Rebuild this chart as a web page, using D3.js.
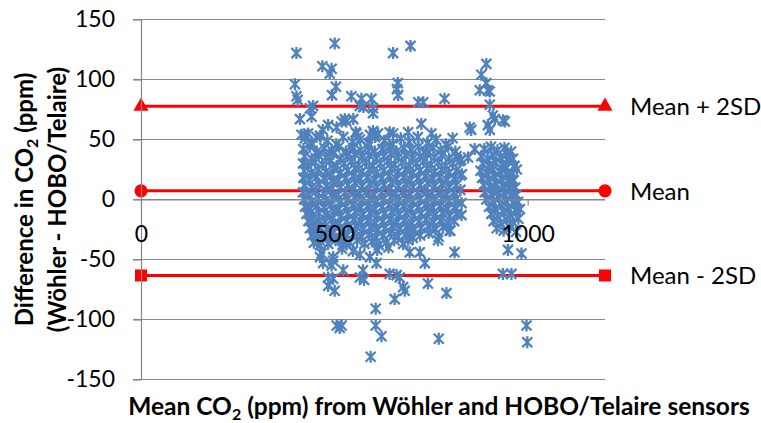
<!DOCTYPE html>
<html>
<head>
<meta charset="utf-8">
<script src="https://cdn.jsdelivr.net/npm/d3@7"></script>
<style>
  body { margin: 0; background: #fff; }
  svg { display: block; font-family: Lato, "Open Sans", sans-serif; }
</style>
</head>
<body>
<div id="chart"></div>
<script>
// axis ticks
const xTicks = [0, 500, 1000];
const yTicks = [-150, -100, -50, 0, 50, 100, 150];

// limits of agreement
const limitLabels = ["Mean + 2SD", "Mean", "Mean - 2SD"];
const limitValues = [77.7, 7.2, -63.3];
const limitShapes = ["triangle", "circle", "square"];

// [mean CO2, difference]
const points = [
  // outliers above the cloud
  [402,122],[501,130],[469,111],[493,109],[488,105],[504,94],[398,96],[402,86],[405,83],[494,87],
  [544,86],[570,84],[596,84],[600,76],[600,72],[445,78],[437,76],[566,78],[575,77],[411,67],
  [441,69],[484,62],[506,60],[519,65],[527,67],[549,67],[561,52],[424,54],[454,52],[605,52],
  [652,122],[664,97],[662,92],[665,87],[697,128],[717,81],[730,81],[785,84],[893,113],[880,104],
  [876,91],[893,97],[897,91],[902,90],[902,79],[910,70],[915,67],[941,65],[936,66],[725,63],
  [850,60],[854,58],[897,62],[902,58],[846,35],[863,42],[652,55],[691,56],[751,55],[600,57],
  [555,56],[470,58],[531,65],[557,55],[592,54],[613,55],[643,56],[432,55],[415,54],
  // main cloud
  [424,51],[441,47],[463,53],[482,49],[505,46],[523,52],[547,48],[566,50],[588,47],[607,53],
  [629,49],[651,46],[672,51],[694,48],[716,52],[741,47],[763,50],[788,46],[806,51],
  [420,42],[437,44],[455,40],[474,43],[493,41],[512,44],[530,40],[549,43],[568,41],[587,44],
  [605,40],[624,42],[643,45],[661,40],[680,43],[699,41],[718,44],[737,40],[756,43],[775,41],
  [794,44],[813,40],
  [423,36],[441,34],[459,37],[478,35],[497,38],[516,34],[534,36],[553,38],[572,35],[590,37],
  [609,34],[628,36],[646,38],[665,35],[684,37],[703,34],[721,36],[740,38],[759,35],[778,37],
  [797,34],[816,36],[828,33],
  [419,30],[432,28],[450,31],[469,29],[488,32],[506,28],[525,30],[544,32],[563,29],[581,31],
  [600,28],[619,30],[638,32],[656,29],[675,31],[694,28],[712,30],[731,32],[750,29],[769,31],
  [788,28],[806,30],[824,32],
  [422,24],[440,22],[459,25],[478,23],[497,26],[515,22],[534,24],[553,26],[571,23],[590,25],
  [609,22],[627,24],[646,26],[665,23],[684,25],[702,22],[721,24],[740,26],[759,23],[777,25],
  [796,22],[815,24],[830,21],
  [420,18],[436,16],[455,19],[474,17],[492,20],[511,16],[530,18],[549,20],[567,17],[586,19],
  [605,16],[623,18],[642,20],[661,17],[680,19],[698,16],[717,18],[736,20],[755,17],[773,19],
  [792,16],[811,18],[826,20],
  [423,12],[441,10],[460,13],[479,11],[497,14],[516,10],[535,12],[553,14],[572,11],[591,13],
  [610,10],[628,12],[647,14],[666,11],[684,13],[703,10],[722,12],[741,14],[759,11],[778,13],
  [797,10],[815,12],
  [419,6],[434,4],[453,7],[472,5],[491,8],[509,4],[528,6],[547,8],[566,5],[584,7],
  [603,4],[622,6],[641,8],[659,5],[678,7],[697,4],[716,6],[734,8],[753,5],[772,7],
  [791,4],[809,6],[826,8],
  [422,0],[440,-2],[459,1],[477,-1],[496,2],[515,-2],[534,0],[552,2],[571,-1],[590,1],
  [608,-2],[627,0],[646,2],[665,-1],[683,1],[702,-2],[721,0],[740,2],[758,-1],[777,1],
  [796,-2],[814,0],[829,-3],
  [424,-6],[437,-8],[456,-5],[474,-7],[493,-4],[512,-8],[531,-6],[549,-4],[568,-7],[587,-5],
  [605,-8],[624,-6],[643,-4],[662,-7],[680,-5],[699,-8],[718,-6],[737,-4],[755,-7],[774,-5],
  [793,-8],[812,-6],
  [428,-12],[442,-14],[460,-11],[479,-13],[498,-10],[517,-14],[535,-12],[554,-10],[573,-13],[592,-11],
  [610,-14],[629,-12],[648,-10],[667,-13],[685,-11],[704,-14],[723,-12],[742,-10],[760,-13],[779,-11],
  [798,-14],[816,-12],
  [433,-18],[446,-20],[460,-17],[476,-19],[495,-16],[513,-20],[532,-18],[551,-16],[570,-19],[588,-17],
  [607,-20],[626,-18],[645,-16],[663,-19],[682,-17],[701,-20],[720,-18],[738,-16],[757,-19],[776,-17],
  [795,-20],[810,-18],
  [437,-24],[449,-26],[463,-23],[480,-25],[499,-22],[518,-26],[536,-24],[555,-22],[574,-25],[593,-23],
  [611,-26],[630,-24],[649,-22],[668,-25],[686,-23],[705,-26],[724,-24],[743,-22],[762,-25],[781,-23],
  [800,-26],
  [442,-30],[455,-32],[468,-29],[480,-31],[496,-28],[515,-32],[533,-30],[552,-28],[571,-31],[590,-29],
  [608,-32],[627,-30],[646,-28],[665,-31],[684,-29],[703,-32],[722,-30],[744,-28],[770,-31],
  [447,-36],[465,-35],[484,-37],[503,-34],[521,-38],[540,-36],[559,-34],[578,-37],[597,-35],
  [615,-38],[634,-36],[655,-34],[678,-37],
  [520,-41],[548,-43],[611,-42],[640,-40],
  // cluster near 900-970
  [888,42],[905,44],[922,41],[940,43],[957,40],
  [880,36],[896,34],[912,37],[929,35],[946,38],[962,34],
  [884,30],[900,28],[917,31],[934,29],[950,32],[966,28],
  [878,24],[894,22],[911,25],[928,23],[944,26],[960,22],[972,25],
  [882,18],[898,16],[915,19],[932,17],[948,20],[964,16],
  [886,12],[903,10],[919,13],[936,11],[952,14],[968,10],
  [889,6],[906,4],[922,7],[939,5],[955,8],[971,4],
  [893,0],[910,-2],[926,1],[943,-1],[959,2],[975,-2],
  [900,-6],[916,-8],[933,-5],[949,-7],[966,-4],[980,-8],
  [906,-12],[922,-14],[939,-11],[955,-13],[971,-10],
  [912,-18],[929,-20],[946,-17],[962,-19],[976,-16],
  [920,-24],[938,-26],[955,-23],[970,-27],
  // outliers below the cloud
  [463,-38],[467,-45],[463,-48],[497,-48],[497,-51],[471,-53],[493,-55],[523,-59],[484,-65],[497,-66],
  [484,-72],[501,-76],[566,-65],[577,-67],[574,-59],[609,-53],[592,-48],[643,-62],[656,-83],[607,-91],
  [607,-105],[622,-114],[594,-131],[506,-105],[519,-105],[514,-107],[531,-37],[566,-46],
  [661,-63],[669,-65],[678,-73],[682,-76],[734,-53],[742,-70],[790,-78],[811,-44],[721,-44],[768,-34],
  [798,-26],[829,-13],[949,-42],[984,-45],[936,-62],[958,-62],[770,-116],[997,-105],[999,-119],
  [695,-28],[691,-34],[695,-44]
];

const width = 761, height = 423;
const grey = "#878787";
const blue = "#4F81BD";
const red = "#FF0000";

const x = d3.scaleLinear().domain([0, 1200]).range([141, 605]);
const y = d3.scaleLinear().domain([-150, 150]).range([379.5, 19.5]);

const svg = d3.select("#chart")
  .append("svg")
  .attr("width", width)
  .attr("height", height);

// horizontal gridlines
svg.append("g")
  .selectAll("line")
  .data(yTicks)
  .join("line")
  .attr("x1", x(0) - 8)
  .attr("x2", x(1200))
  .attr("y1", d => y(d))
  .attr("y2", d => y(d))
  .attr("stroke", grey)
  .attr("stroke-width", 1.2);

// y axis
const yAxis = svg.append("g")
  .attr("transform", `translate(${x(0)},0)`)
  .call(d3.axisLeft(y).tickValues(yTicks).tickFormat(d => String(d))
    .tickSize(8).tickSizeOuter(0).tickPadding(18));
yAxis.selectAll("path, line").attr("stroke", grey).attr("stroke-width", 1.2);

// x axis sits on y = 0
const xAxis = svg.append("g")
  .attr("transform", `translate(0,${y(0)})`)
  .call(d3.axisBottom(x).tickValues(xTicks).tickFormat(d => String(d))
    .tickSize(6).tickSizeOuter(0).tickPadding(20));
xAxis.selectAll("path, line").attr("stroke", grey).attr("stroke-width", 1.2);

// limit lines
const limits = limitValues.map((v, i) => ({ value: v, label: limitLabels[i], shape: limitShapes[i] }));

svg.append("g")
  .selectAll("line")
  .data(limits)
  .join("line")
  .attr("x1", x(0))
  .attr("x2", x(1200))
  .attr("y1", d => y(d.value))
  .attr("y2", d => y(d.value))
  .attr("stroke", red)
  .attr("stroke-width", 3);

const symbolType = { triangle: d3.symbolTriangle, circle: d3.symbolCircle, square: d3.symbolSquare };
const symbolSize = { triangle: 100, circle: 135, square: 144 };

svg.append("g")
  .selectAll("path")
  .data(limits.flatMap(d => [{ ...d, at: 0 }, { ...d, at: 1200 }]))
  .join("path")
  .attr("transform", d => `translate(${x(d.at)},${y(d.value)})`)
  .attr("d", d => d3.symbol(symbolType[d.shape], symbolSize[d.shape])())
  .attr("fill", red);

// scatter, star markers
const star = "M-5,-5L5,5M-5,5L5,-5M0,-6L0,6";
svg.append("g")
  .selectAll("path")
  .data(points)
  .join("path")
  .attr("transform", d => `translate(${x(d[0])},${y(d[1])})`)
  .attr("d", star)
  .attr("fill", "none")
  .attr("stroke", blue)
  .attr("stroke-width", 2.3);

// bring tick labels above the points
svg.node().appendChild(yAxis.node());
svg.node().appendChild(xAxis.node());
svg.selectAll(".tick text")
  .attr("fill", "#000")
  .style("font-size", "23px")
  .style("font-family", "Lato, 'Open Sans', sans-serif");

// limit labels
svg.append("g")
  .selectAll("text")
  .data(limits)
  .join("text")
  .attr("x", 630)
  .attr("y", d => y(d.value) + 9)
  .style("font-size", "24px")
  .text(d => d.label);

// axis titles
const xTitle = svg.append("text")
  .attr("x", 439)
  .attr("y", 415)
  .attr("text-anchor", "middle")
  .style("font-size", "24.5px")
  .style("font-weight", "bold");
xTitle.append("tspan").text("Mean CO");
xTitle.append("tspan").attr("dy", 5).style("font-size", "16px").text("2");
xTitle.append("tspan").attr("dy", -5).text(" (ppm) from Wöhler and HOBO/Telaire sensors");

const yTitle1 = svg.append("text")
  .attr("transform", `translate(33,${(y(150) + y(-150)) / 2}) rotate(-90)`)
  .attr("text-anchor", "middle")
  .style("font-size", "24px")
  .style("font-weight", "bold");
yTitle1.append("tspan").text("Difference in CO");
yTitle1.append("tspan").attr("dy", 5).style("font-size", "16px").text("2");
yTitle1.append("tspan").attr("dy", -5).text(" (ppm)");

svg.append("text")
  .attr("transform", `translate(66,${(y(150) + y(-150)) / 2}) rotate(-90)`)
  .attr("text-anchor", "middle")
  .style("font-size", "24px")
  .style("font-weight", "bold")
  .text("(Wöhler - HOBO/Telaire)");
</script>
</body>
</html>
